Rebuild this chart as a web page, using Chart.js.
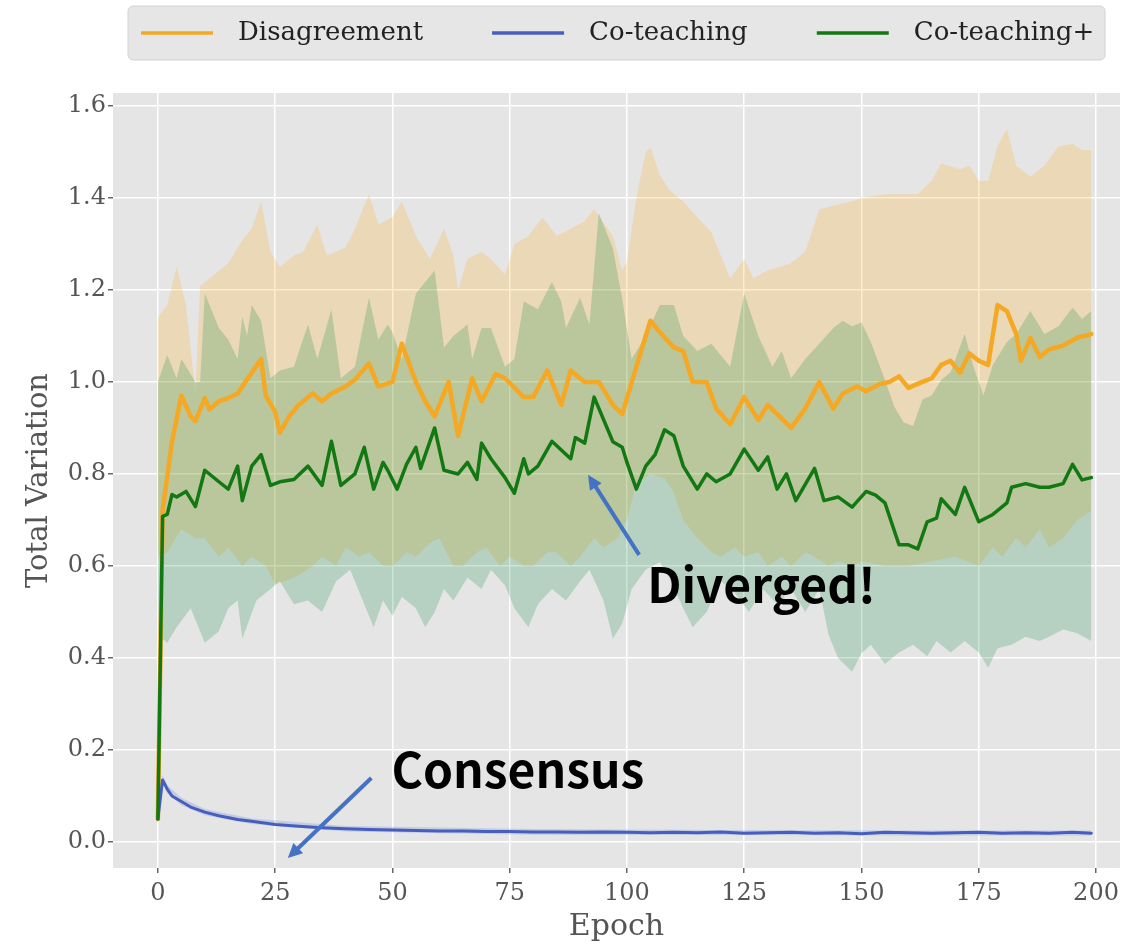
<!DOCTYPE html>
<html>
<head>
<meta charset="utf-8">
<script src="https://cdn.jsdelivr.net/npm/chart.js@4.4.1/dist/chart.umd.min.js"></script>
<style>
  html, body { margin: 0; padding: 0; background: #fff; }
  #wrap { width: 1125px; height: 945px; position: relative; }
</style>
</head>
<body>
<div id="wrap"><canvas id="tvChart"></canvas></div>
<script>
// axis ticks
const xTicks = [0, 25, 50, 75, 100, 125, 150, 175, 200];
const yTicks = [0, 0.2, 0.4, 0.6, 0.8, 1.0, 1.2, 1.4, 1.6];

// Disagreement (mean + band)
const disEp = [0,1,3,5,7,8,10,11,13,15, 17,19,22,23,25,26,28,30,33,35, 37,40,42,45,47,50,52,55,57,59,
  62,64,67,69,72,74,78,80,83,86, 88,91,94,97,99,102,105,107,110,112, 114,117,119,122,125,128,130,135,138,141,
  144,146,149,151,154,156,158,160,163,165, 167,169,171,173,175,177,179,181,183,184, 186,188,190,193,196,199];
const disMean = [0.05,0.72,0.87,0.97,0.925,0.915,0.965,0.94,0.958,0.965, 0.975,1.005,1.05,0.97,0.935,0.89,0.925,0.95,0.975,0.958,
  0.975,0.99,1.005,1.04,0.99,1.0,1.083,1.0,0.958,0.925, 1.0,0.883,1.008,0.958,1.017,1.008,0.967,0.967,1.025,0.95,
  1.025,1.0,1.0,0.95,0.93,1.033,1.133,1.108,1.075,1.067, 1.0,1.0,0.942,0.908,0.967,0.917,0.95,0.9,0.942,1.0,
  0.942,0.975,0.99,0.98,0.996,1.0,1.012,0.987,1.0,1.008, 1.037,1.046,1.02,1.062,1.046,1.037,1.167,1.154,1.104,1.046,
  1.096,1.054,1.071,1.079,1.096,1.104];
const disUpEp = [0,2,4,6,8,9,12,15,18,20, 22,24,26,29,31,34,36,40,42,45, 47,50,52,55,58,61,63,64,66,69,
  71,74,76,79,82,85,88,91,93,97, 99,100,102,104,105,107,109,112,115,118, 122,125,127,130,135,138,141,144,148,150,
  155,162,165,167,171,173,175,177,179,181, 183,186,189,192,195,197,199];
const disUp = [1.14,1.167,1.25,1.167,0.975,1.208,1.233,1.258,1.308,1.333, 1.392,1.283,1.25,1.275,1.283,1.342,1.275,1.292,1.333,1.408,
  1.342,1.358,1.392,1.317,1.267,1.333,1.275,1.2,1.267,1.283, 1.267,1.233,1.3,1.317,1.358,1.317,1.333,1.35,1.375,1.317,
  1.242,1.26,1.4,1.5,1.51,1.45,1.417,1.392,1.358,1.325, 1.225,1.267,1.225,1.242,1.258,1.283,1.375,1.383,1.392,1.4,
  1.408,1.408,1.437,1.475,1.462,1.47,1.437,1.437,1.512,1.55, 1.47,1.446,1.47,1.512,1.517,1.504,1.504];
const disLoEp = [0,2,5,8,10,13,15,18,20,23, 25,28,30,33,35,38,40,43,45,48, 50,53,55,58,60,63,65,68,70,73,
  75,78,80,83,85,88,90,93,95,98, 100,102,105,108,110,112,115,118,120,123, 125,128,130,133,135,138,140,143,145,148,
  150,155,160,165,170,175,178,180,183,185, 188,190,193,196,199];
const disLo = [0.62,0.63,0.68,0.66,0.66,0.62,0.64,0.6,0.62,0.6, 0.56,0.57,0.58,0.6,0.62,0.6,0.64,0.62,0.63,0.6,
  0.6,0.63,0.62,0.65,0.66,0.6,0.6,0.63,0.64,0.6, 0.62,0.6,0.6,0.63,0.63,0.6,0.62,0.66,0.64,0.66,
  0.7,0.78,0.8,0.79,0.76,0.7,0.66,0.63,0.62,0.64, 0.62,0.63,0.6,0.62,0.6,0.63,0.62,0.6,0.61,0.6,
  0.61,0.6,0.6,0.61,0.62,0.6,0.64,0.62,0.66,0.64, 0.68,0.64,0.66,0.7,0.72];

// Co-teaching (mean + band)
const ctEp = [0,1,2,3,5,7,10,13,17,20, 25,30,35,40,45,50,55,60,65,70, 75,80,85,90,95,100,105,110,115,120,
  125,130,135,140,145,150,155,160,165,170, 175,180,185,190,195,199];
const ctMean = [0.05,0.135,0.115,0.1,0.088,0.076,0.065,0.057,0.049,0.045, 0.038,0.034,0.031,0.029,0.027,0.026,0.025,0.024,0.024,0.023,
  0.023,0.022,0.022,0.021,0.022,0.021,0.02,0.021,0.02,0.022, 0.019,0.02,0.021,0.019,0.02,0.018,0.021,0.02,0.019,0.02,
  0.021,0.019,0.02,0.019,0.021,0.019];
const ctBandEp = [0,1,2,5,10,20,40,80,120,160,199];
const ctUp = [0.056,0.145,0.124,0.096,0.072,0.051,0.035,0.028,0.026,0.025,0.025];
const ctLo = [0.044,0.125,0.106,0.08,0.058,0.039,0.023,0.016,0.015,0.014,0.014];

// Co-teaching+ (mean + band)
const ctpEp = [0,1,2,3,4,6,8,10,13,15, 17,18,20,22,24,26,29,32,35,37, 39,42,44,46,48,49,51,53,55,56,
  59,61,64,66,68,69,71,74,76,78, 79,81,84,88,89,91,93,97,99,100, 102,104,106,108,110,112,115,117,119,122,
  125,128,130,132,134,136,140,142,145,148, 151,153,155,158,160,162,164,166,167,170, 172,175,178,181,182,185,188,190,193,195,
  197,199];
const ctpMean = [0.05,0.708,0.712,0.755,0.75,0.762,0.729,0.808,0.783,0.767, 0.817,0.742,0.817,0.842,0.775,0.783,0.788,0.817,0.775,0.871,
  0.775,0.8,0.858,0.767,0.825,0.808,0.767,0.821,0.858,0.812, 0.9,0.808,0.8,0.825,0.788,0.867,0.833,0.792,0.758,0.833,
  0.8,0.817,0.871,0.833,0.879,0.867,0.967,0.87,0.858,0.825, 0.767,0.817,0.842,0.896,0.883,0.817,0.767,0.8,0.783,0.8,
  0.854,0.808,0.837,0.767,0.8,0.742,0.812,0.742,0.75,0.728, 0.762,0.754,0.737,0.646,0.646,0.637,0.696,0.704,0.746,0.712,
  0.771,0.696,0.712,0.737,0.771,0.779,0.771,0.771,0.779,0.821, 0.787,0.792];
const ctpUpEp = [0,2,4,5,8,9,10,13,15,17, 18,19,20,22,24,26,29,32,34,37, 39,42,45,47,49,50,52,55,59,61,
  63,66,67,69,71,74,76,78,81,84, 86,87,90,92,94,97,99,101,104,107, 110,112,115,118,122,125,128,131,133,135,
  138,141,144,146,148,150,152,155,157,159, 161,163,165,167,169,172,174,176,178,181, 183,186,189,192,195,197,199];
const ctpUp = [1.0,1.058,1.008,1.05,1.0,1.0,1.192,1.117,1.092,1.05, 1.142,1.1,1.167,1.133,1.008,1.025,1.033,1.125,1.05,1.158,
  1.008,1.033,1.183,1.092,1.125,1.108,1.05,1.192,1.242,1.075, 1.1,1.125,1.05,1.117,1.117,1.033,1.05,1.175,1.158,1.217,
  1.175,1.117,1.183,1.125,1.367,1.29,1.18,1.05,1.1,1.167, 1.167,1.1,1.067,1.083,1.033,1.192,1.1,1.033,1.067,1.008,
  1.05,1.083,1.117,1.133,1.121,1.129,1.087,1.004,0.946,0.912, 0.904,0.962,0.971,1.004,1.021,1.104,1.029,0.971,1.037,1.087,
  1.104,1.154,1.104,1.121,1.162,1.137,1.154];
const ctpLoEp = [0,2,4,7,8,10,13,15,17,18, 21,24,26,29,32,35,38,41,44,46, 48,50,52,55,57,59,61,63,66,69,
  71,74,76,79,81,84,87,90,92,95, 97,99,101,104,107,109,112,114,117,120, 123,126,129,132,135,138,141,143,145,148,
  150,152,155,158,161,164,166,169,172,175, 177,179,182,185,188,190,193,196,199];
const ctpLo = [0.45,0.433,0.467,0.508,0.483,0.433,0.458,0.508,0.525,0.442, 0.525,0.55,0.567,0.517,0.525,0.5,0.567,0.592,0.517,0.467,
  0.525,0.492,0.533,0.508,0.467,0.5,0.55,0.525,0.575,0.55, 0.592,0.558,0.508,0.467,0.517,0.55,0.525,0.567,0.592,0.525,
  0.442,0.475,0.55,0.592,0.608,0.575,0.508,0.467,0.5,0.567, 0.542,0.5,0.55,0.517,0.55,0.5,0.55,0.45,0.4,0.37,
  0.41,0.429,0.387,0.412,0.429,0.404,0.437,0.412,0.437,0.412, 0.379,0.421,0.429,0.446,0.437,0.446,0.462,0.454,0.437];

// annotation anchors in data units [epoch, value]
const divergedArrow = [[102.6, 0.624], [91.7, 0.798]];
const consensusArrow = [[45.5, 0.139], [27.7, -0.035]];
const divergedText = [104.3, 0.52];
const consensusText = [49.8, 0.117];

const serif = "'DejaVu Serif', 'Liberation Serif', serif";
const orange = "rgb(245,168,35)";
const blue = "rgb(70,95,190)";
const green = "rgb(18,120,18)";

function pts(ep, vals) {
  return ep.map((e, i) => ({ x: e, y: vals[i] }));
}

// grey plot background (ggplot look)
const plotBg = {
  id: "plotBg",
  beforeDraw(chart) {
    const { ctx, chartArea: a } = chart;
    ctx.save();
    ctx.fillStyle = "#e5e5e5";
    ctx.fillRect(a.left, a.top, a.right - a.left, a.bottom - a.top);
    ctx.restore();
  }
};

// legend in a grey rounded box at the top
const legendBox = {
  id: "legendBox",
  afterDraw(chart) {
    const ctx = chart.ctx;
    const items = [6, 7, 8].map(i => chart.data.datasets[i]);
    ctx.save();
    ctx.fillStyle = "#e6e6e6";
    ctx.strokeStyle = "#d2d2d2";
    ctx.lineWidth = 1;
    ctx.beginPath();
    ctx.roundRect(128, 6, 977, 54, 5);
    ctx.fill();
    ctx.stroke();
    ctx.font = "26px " + serif;
    ctx.textBaseline = "middle";
    let x = 141;
    const y = 33;
    items.forEach(ds => {
      ctx.strokeStyle = ds.borderColor;
      ctx.lineWidth = 3.5;
      ctx.beginPath();
      ctx.moveTo(x, y);
      ctx.lineTo(x + 72, y);
      ctx.stroke();
      x += 72 + 25;
      ctx.fillStyle = "#222";
      ctx.fillText(ds.label, x, y);
      x += ctx.measureText(ds.label).width + 69;
    });
    ctx.restore();
  }
};

// "Diverged!" / "Consensus" callouts
function arrow(ctx, x1, y1, x2, y2) {
  const ang = Math.atan2(y2 - y1, x2 - x1);
  const head = 16;
  ctx.beginPath();
  ctx.moveTo(x1, y1);
  ctx.lineTo(x2 - Math.cos(ang) * head * 0.8, y2 - Math.sin(ang) * head * 0.8);
  ctx.stroke();
  ctx.beginPath();
  ctx.moveTo(x2, y2);
  ctx.lineTo(x2 - head * Math.cos(ang - 0.45), y2 - head * Math.sin(ang - 0.45));
  ctx.lineTo(x2 - head * Math.cos(ang + 0.45), y2 - head * Math.sin(ang + 0.45));
  ctx.closePath();
  ctx.fill();
}
const callouts = {
  id: "callouts",
  afterDatasetsDraw(chart) {
    const { ctx, scales: { x, y } } = chart;
    const px = p => [x.getPixelForValue(p[0]), y.getPixelForValue(p[1])];
    ctx.save();
    ctx.strokeStyle = "#4472c4";
    ctx.fillStyle = "#4472c4";
    ctx.lineWidth = 4;
    [divergedArrow, consensusArrow].forEach(a => {
      const [x1, y1] = px(a[0]);
      const [x2, y2] = px(a[1]);
      arrow(ctx, x1, y1, x2, y2);
    });
    ctx.fillStyle = "#000";
    ctx.font = "bold 48px 'Noto Sans CJK SC', 'Noto Sans', sans-serif";
    ctx.textBaseline = "alphabetic";
    let p = px(divergedText);
    ctx.fillText("Diverged!", p[0], p[1]);
    p = px(consensusText);
    ctx.fillText("Consensus", p[0], p[1]);
    ctx.restore();
  }
};

const band = (label, ep, vals, color, fill, order) => ({
  label, data: pts(ep, vals), borderWidth: 0, pointRadius: 0,
  backgroundColor: color, fill, order
});
const mean = (label, ep, vals, color, width, order) => ({
  label, data: pts(ep, vals), borderColor: color, backgroundColor: color,
  borderWidth: width, pointRadius: 0, fill: false, order,
  borderJoinStyle: "round", borderCapStyle: "round"
});

new Chart(document.getElementById("tvChart"), {
  type: "line",
  data: {
    datasets: [
      band("dis-up", disUpEp, disUp, "rgba(255,165,0,0.2)", "+1", 10),
      band("dis-lo", disLoEp, disLo, "rgba(255,165,0,0.2)", false, 10),
      band("ctp-up", ctpUpEp, ctpUp, "rgba(10,135,60,0.21)", "+1", 9),
      band("ctp-lo", ctpLoEp, ctpLo, "rgba(10,135,60,0.21)", false, 9),
      band("ct-up", ctBandEp, ctUp, "rgba(65,105,225,0.2)", "+1", 8),
      band("ct-lo", ctBandEp, ctLo, "rgba(65,105,225,0.2)", false, 8),
      mean("Disagreement", disEp, disMean, orange, 4.5, 3),
      mean("Co-teaching", ctEp, ctMean, blue, 3, 2),
      mean("Co-teaching+", ctpEp, ctpMean, green, 3.5, 1)
    ]
  },
  options: {
    responsive: true,
    maintainAspectRatio: false,
    animation: false,
    layout: { padding: { top: 93, right: 3, left: 0, bottom: 0 } },
    elements: { line: { tension: 0 } },
    plugins: {
      legend: { display: false },
      tooltip: { enabled: false }
    },
    scales: {
      x: {
        type: "linear",
        min: -9.57,
        max: 205.1,
        afterBuildTicks: s => { s.ticks = xTicks.map(v => ({ value: v })); },
        afterFit: s => { s.height = 77; },
        ticks: { font: { family: serif, size: 24 }, color: "#555", padding: 6, maxRotation: 0 },
        grid: { color: "#fff", lineWidth: 1.5, tickColor: "#666", tickLength: 5 },
        border: { display: false },
        title: { display: true, text: "Epoch", font: { family: serif, size: 30 }, color: "#555", padding: { top: 0, bottom: 0 } }
      },
      y: {
        min: -0.0565,
        max: 1.628,
        afterBuildTicks: s => { s.ticks = yTicks.map(v => ({ value: v })); },
        afterFit: s => { s.width = 113; },
        ticks: { font: { family: serif, size: 24 }, color: "#555", padding: 2, callback: v => v.toFixed(1) },
        grid: { color: "#fff", lineWidth: 1.5, tickColor: "#666", tickLength: 5 },
        border: { display: false },
        title: { display: true, text: "Total Variation", font: { family: serif, size: 29 }, color: "#555", padding: { top: 22, bottom: 0 } }
      }
    }
  },
  plugins: [plotBg, legendBox, callouts]
});
</script>
</body>
</html>
